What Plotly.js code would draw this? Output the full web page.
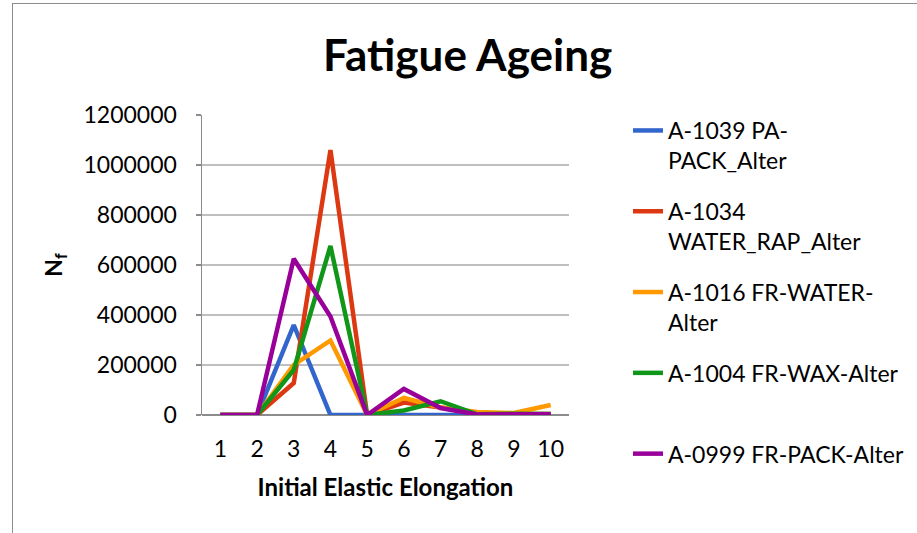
<!DOCTYPE html>
<html>
<head>
<meta charset="utf-8">
<script src="https://cdn.plot.ly/plotly-3.0.1.min.js"></script>
<style>
html,body{margin:0;padding:0;background:#fff;overflow:hidden;}
#chart{width:917px;height:533px;position:absolute;left:0;top:0;}
#frame{position:absolute;left:12px;top:3px;width:1000px;height:1000px;border:1.5px solid #8c8c8c;pointer-events:none;}
</style>
</head>
<body>
<div id="chart"></div>
<div id="frame"></div>
<script>
const categories = [1, 2, 3, 4, 5, 6, 7, 8, 9, 10];
const seriesNames = [
  "A-1039 PA-<br>PACK_Alter",
  "A-1034<br>WATER_RAP_Alter",
  "A-1016 FR-WATER-<br>Alter",
  "A-1004 FR-WAX-Alter<br>&nbsp;",
  "A-0999 FR-PACK-Alter"
];
const a1039 = [0, 0, 360000, 0, 0, 0, 0, 0, 0, 0];
const a1034 = [0, 0, 128000, 1060000, 0, 50000, 30000, 5000, 4000, 4000];
const a1016 = [0, 0, 200000, 298000, 0, 68000, 30000, 12000, 8000, 40000];
const a1004 = [0, 0, 180000, 676000, 0, 18000, 55000, 3000, 5000, 4000];
const a0999 = [0, 0, 625000, 394000, 0, 104000, 28000, 2000, 3000, 3000];
const colors = ["#3366CC", "#DC3912", "#FF9900", "#109618", "#990099"];
const yTicks = [0, 200000, 400000, 600000, 800000, 1000000, 1200000];

const allSeries = [a1039, a1034, a1016, a1004, a0999];
const font = "Lato, 'Open Sans', sans-serif";

const traces = allSeries.map((vals, i) => ({
  x: categories,
  y: vals,
  type: "scatter",
  mode: "lines",
  name: seriesNames[i],
  legendgroup: "g" + i,
  line: {color: colors[i], width: 4.5, shape: "linear"},
  hoverinfo: "x+y+name"
}));

const layout = {
  width: 917,
  height: 533,
  paper_bgcolor: "#ffffff",
  plot_bgcolor: "#ffffff",
  margin: {l: 202, r: 348, t: 115, b: 118, pad: 0},
  font: {family: font, size: 23, color: "#000"},
  title: {
    text: "<b>Fatigue Ageing</b>",
    font: {family: font, size: 44, color: "#000"},
    x: 0.51, xref: "container", xanchor: "center",
    y: 0.896, yref: "container", yanchor: "middle"
  },
  xaxis: {
    range: [0.5, 10.5],
    tickvals: categories,
    ticktext: categories.map(String),
    showgrid: false,
    zeroline: false,
    showline: false,
    ticks: "",
    ticklabelstandoff: 18,
    tickfont: {family: font, size: 23, color: "#000"},
    title: {text: "<b>Initial Elastic Elongation</b>", font: {family: font, size: 24, color: "#000"}, standoff: 18},
    fixedrange: true
  },
  yaxis: {
    range: [0, 1200000],
    tickvals: yTicks,
    ticktext: yTicks.map(String),
    showgrid: true,
    gridcolor: "#bfbfbf",
    gridwidth: 1.5,
    zeroline: true,
    zerolinecolor: "#8c8c8c",
    zerolinewidth: 1.5,
    showline: true,
    linecolor: "#8c8c8c",
    linewidth: 1.5,
    ticks: "outside",
    ticklen: 5,
    tickcolor: "#8c8c8c",
    tickwidth: 1.5,
    ticklabelstandoff: 14,
    tickfont: {family: font, size: 23, color: "#000"},
    title: {text: "<b>N<sub>f</sub></b>", font: {family: font, size: 23, color: "#000"}, standoff: 14},
    fixedrange: true
  },
  showlegend: true,
  legend: {
    xref: "container", yref: "container",
    x: 628 / 917, xanchor: "left",
    y: 1 - 109 / 533, yanchor: "top",
    valign: "top",
    tracegroupgap: 18,
    maxheight: 1,
    bgcolor: "rgba(0,0,0,0)",
    font: {family: font, size: 23, color: "#000"}
  }
};

Plotly.newPlot("chart", traces, layout, {displayModeBar: false, staticPlot: true});
</script>
</body>
</html>
